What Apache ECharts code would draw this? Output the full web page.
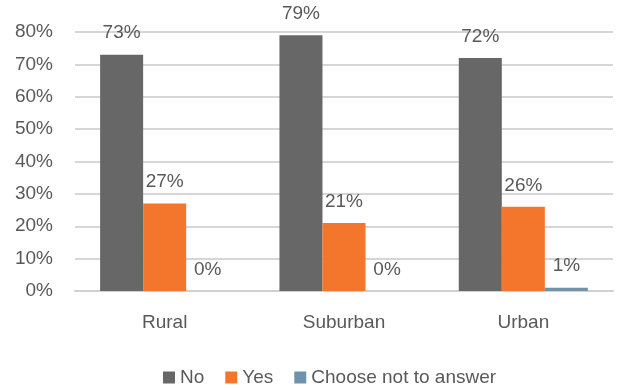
<!DOCTYPE html>
<html>
<head>
<meta charset="utf-8">
<script src="https://cdn.jsdelivr.net/npm/echarts@6/dist/echarts.min.js"></script>
<style>
  html, body { margin: 0; padding: 0; background: #ffffff; }
  #chart { width: 618px; height: 390px; }
</style>
</head>
<body>
<div id="chart"></div>
<script>
// Survey responses by community type (percent)
const categories = ['Rural', 'Suburban', 'Urban'];
const seriesNames = ['No', 'Yes', 'Choose not to answer'];
const noValues = [73, 79, 72];
const yesValues = [27, 21, 26];
const declineValues = [0, 0, 1];
const colors = ['#676767', '#f4762c', '#6f92ad'];

const font = '"Liberation Sans", Arial, sans-serif';
const textColor = '#595959';

function barSeries(name, data, color) {
  return {
    name: name,
    type: 'bar',
    data: data,
    barGap: '0%',
    barCategoryGap: '28%',
    itemStyle: { color: color },
    label: {
      show: true,
      position: 'top',
      distance: 12,
      formatter: '{c}%',
      color: textColor,
      fontFamily: font,
      fontSize: 19
    }
  };
}

const chart = echarts.init(document.getElementById('chart'));
chart.setOption({
  animation: false,
  color: colors,
  grid: { left: 75, right: 5, top: 32, bottom: 99 },
  legend: {
    bottom: -2,
    left: 158,
    itemWidth: 12,
    itemHeight: 12,
    itemGap: 21,
    icon: 'rect',
    textStyle: { color: textColor, fontFamily: font, fontSize: 19 },
    data: seriesNames
  },
  xAxis: {
    type: 'category',
    data: categories,
    axisTick: { show: false },
    axisLine: { lineStyle: { color: '#d0d0d0', width: 2 } },
    axisLabel: { color: textColor, fontFamily: font, fontSize: 19, margin: 22 }
  },
  yAxis: {
    type: 'value',
    min: 0,
    max: 80,
    interval: 10,
    axisLine: { show: false },
    axisTick: { show: false },
    axisLabel: { formatter: '{value}%', color: textColor, fontFamily: font, fontSize: 19, margin: 22 },
    splitLine: { lineStyle: { color: '#d6d6d6', width: 2 } }
  },
  series: [
    barSeries(seriesNames[0], noValues, colors[0]),
    barSeries(seriesNames[1], yesValues, colors[1]),
    barSeries(seriesNames[2], declineValues, colors[2])
  ]
});
</script>
</body>
</html>
